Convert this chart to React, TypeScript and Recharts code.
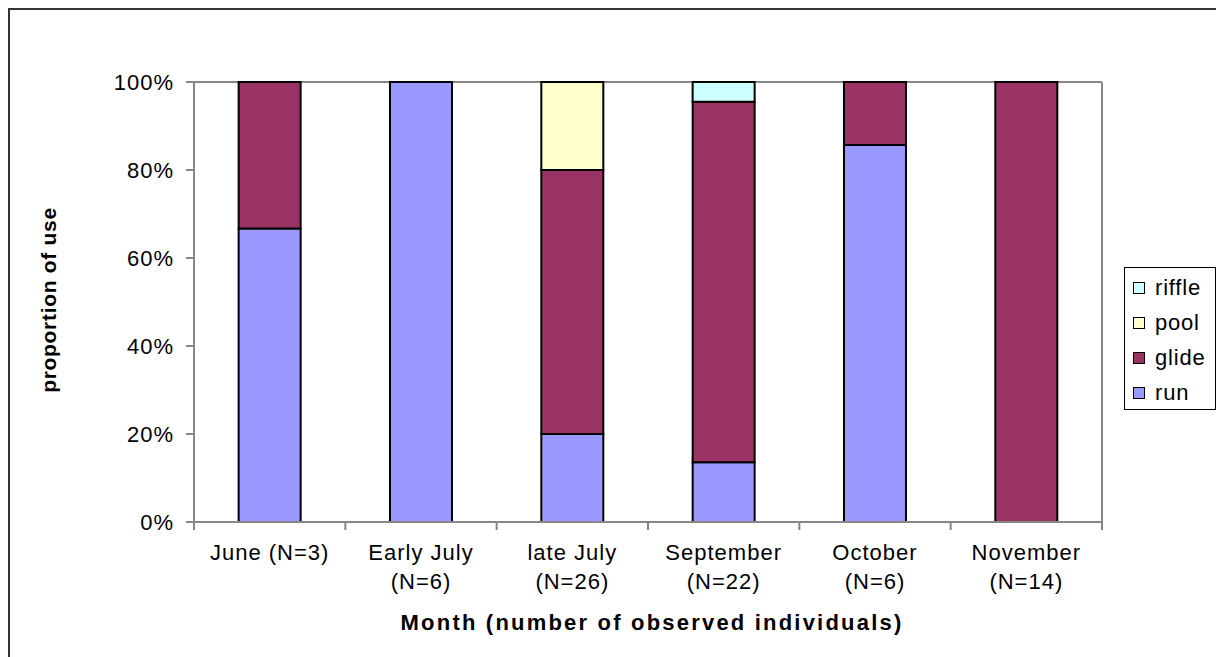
import React from "react";
import { BarChart, Bar, XAxis, YAxis, CartesianGrid, Legend, Label } from "recharts";

const months = ["June (N=3)", "Early July (N=6)", "late July (N=26)", "September (N=22)", "October (N=6)", "November (N=14)"];
const monthLines = [["June (N=3)"], ["Early July", "(N=6)"], ["late July", "(N=26)"], ["September", "(N=22)"], ["October", "(N=6)"], ["November", "(N=14)"]];

// percent of use
const run = [66.7, 100, 20, 13.6, 85.7, 0];
const glide = [33.3, 0, 60, 81.9, 14.3, 100];
const pool = [0, 0, 20, 0, 0, 0];
const riffle = [0, 0, 0, 4.5, 0, 0];

const yTicks = [0, 20, 40, 60, 80, 100];

const series = [
  { key: "run", name: "run", color: "#9999FF" },
  { key: "glide", name: "glide", color: "#993366" },
  { key: "pool", name: "pool", color: "#FFFFCC" },
  { key: "riffle", name: "riffle", color: "#CCFFFF" },
];

const data = months.map((m, i) => ({
  month: m,
  run: run[i],
  glide: glide[i],
  pool: pool[i],
  riffle: riffle[i],
}));

const FONT = "'Liberation Sans', Arial, sans-serif";
const GRAY = "#878787";

function MonthTick(props: any) {
  const { x, y, payload, index } = props;
  const lines = monthLines[index] || [String(payload.value)];
  const half = payload.offset || 0;
  const axisY = y - 8;
  return (
    <g>
      <line x1={x - half} x2={x - half} y1={axisY} y2={axisY + 8} stroke={GRAY} strokeWidth={2} />
      {index === months.length - 1 && (
        <line x1={x + half} x2={x + half} y1={axisY} y2={axisY + 8} stroke={GRAY} strokeWidth={2} />
      )}
      <text x={x} y={y} textAnchor="middle" fontFamily={FONT} fontSize={22} letterSpacing={1} fill="#000">
        {lines.map((l: string, j: number) => (
          <tspan key={j} x={x} dy={j === 0 ? 30 : 29}>
            {l}
          </tspan>
        ))}
      </text>
    </g>
  );
}

function LegendBox() {
  const items = [...series].reverse();
  return (
    <div
      style={{
        border: "1.5px solid #000",
        background: "#fff",
        width: 92,
        height: 143,
        boxSizing: "border-box",
        paddingTop: 2,
        fontFamily: FONT,
      }}
    >
      {items.map((s) => (
        <div key={s.key} style={{ display: "flex", alignItems: "center", height: 35, paddingLeft: 8 }}>
          <span
            style={{
              width: 10,
              height: 10,
              background: s.color,
              border: "1.5px solid #000",
              display: "inline-block",
              marginRight: 10,
            }}
          />
          <span style={{ fontSize: 22, letterSpacing: 0.8, color: "#000" }}>{s.name}</span>
        </div>
      ))}
    </div>
  );
}

export default function App() {
  return (
    <div style={{ width: 1211, height: 660, border: "2px solid #333", background: "#fff" }}>
      <style>{`body{overflow:hidden;margin:8px;}`}</style>
      <BarChart
        width={1211}
        height={660}
        data={data}
        margin={{ top: 72, right: 0, left: 0, bottom: 0 }}
        barCategoryGap="29.5%"
      >
        <CartesianGrid vertical={false} stroke={GRAY} strokeWidth={2} />
        <XAxis
          dataKey="month"
          height={148}
          axisLine={{ stroke: GRAY, strokeWidth: 2 }}
          tickLine={false}
          tickSize={8}
          tickMargin={0}
          interval={0}
          tick={<MonthTick />}
        >
          <Label
            content={(p: any) => {
              const vb = p.viewBox;
              return (
                <text
                  x={vb.x + vb.width / 2 + 4}
                  y={vb.y + 100}
                  textAnchor="middle"
                  dominantBaseline="central"
                  fontFamily={FONT}
                  fontWeight="bold"
                  fontSize={22}
                  letterSpacing={2.2}
                  fill="#000"
                >
                  Month (number of observed individuals)
                </text>
              );
            }}
          />
        </XAxis>
        <YAxis
          yAxisId="left"
          width={184}
          domain={[0, 100]}
          ticks={yTicks}
          tickFormatter={(v: number) => `${v}%`}
          axisLine={{ stroke: GRAY, strokeWidth: 2 }}
          tickLine={{ stroke: GRAY, strokeWidth: 2 }}
          tickSize={8}
          tickMargin={12}
          tick={{ fill: "#000", fontSize: 22, fontFamily: FONT, letterSpacing: 1 }}
        >
          <Label
            content={(p: any) => {
              const vb = p.viewBox;
              const cx = vb.x + 38;
              const cy = vb.y + vb.height / 2 - 2;
              return (
                <text
                  x={cx}
                  y={cy}
                  transform={`rotate(-90, ${cx}, ${cy})`}
                  textAnchor="middle"
                  dominantBaseline="central"
                  fontFamily={FONT}
                  fontWeight="bold"
                  fontSize={21}
                  letterSpacing={0.7}
                  fill="#000"
                >
                  proportion of use
                </text>
              );
            }}
          />
        </YAxis>
        <YAxis
          yAxisId="right"
          orientation="right"
          width={119}
          domain={[0, 100]}
          tick={false}
          tickLine={false}
          axisLine={{ stroke: GRAY, strokeWidth: 2 }}
        />
        <Legend
          layout="vertical"
          align="center"
          verticalAlign="middle"
          content={() => <LegendBox />}
          wrapperStyle={{ left: 1114, top: 257, width: 92, height: 143 }}
        />
        {series.map((s) => (
          <Bar
            key={s.key}
            yAxisId="left"
            dataKey={s.key}
            name={s.name}
            stackId="a"
            fill={s.color}
            stroke="#000"
            strokeWidth={2}
            isAnimationActive={false}
          />
        ))}
      </BarChart>
    </div>
  );
}
